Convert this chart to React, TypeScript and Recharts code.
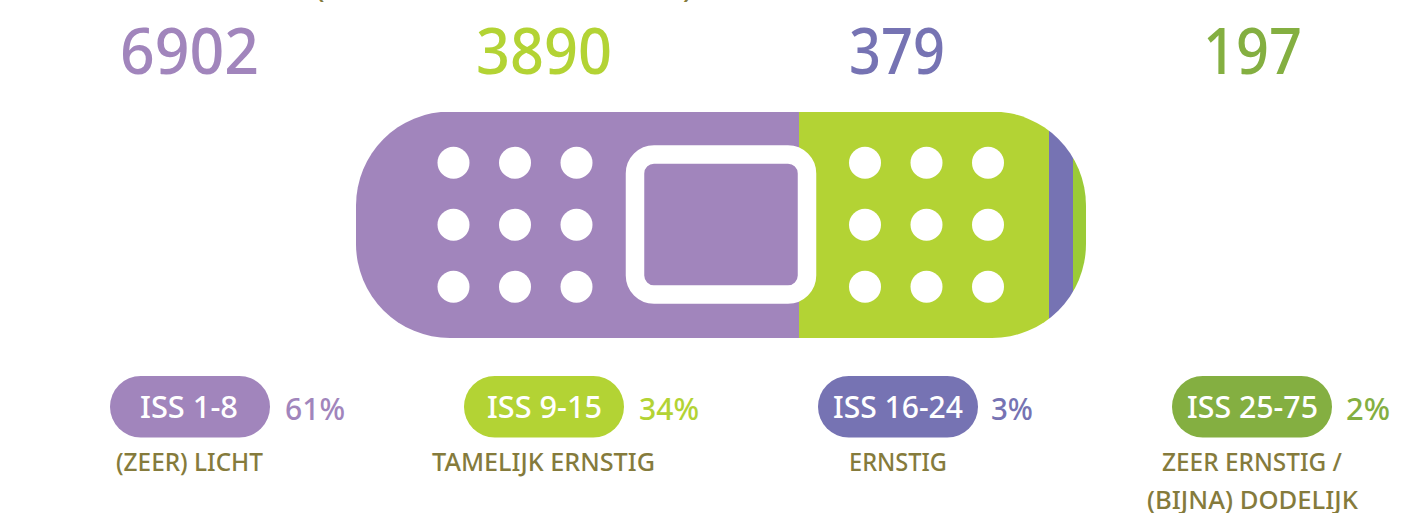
import { BarChart, Bar, XAxis, YAxis } from 'recharts'

const WIDTH = 1421
const HEIGHT = 513

// severity groups
const ranges = ['ISS 1-8', 'ISS 9-15', 'ISS 16-24', 'ISS 25-75']
const counts = [6902, 3890, 379, 197]
const shares = ['61%', '34%', '3%', '2%']
const descriptions = [['(ZEER) LICHT'], ['TAMELIJK ERNSTIG'], ['ERNSTIG'], ['ZEER ERNSTIG /', '(BIJNA) DODELIJK']]

const COLORS = ['#a185bc', '#b3d334', '#7673b3', '#84af41']
const BAR_COLORS = ['#a185bc', '#b3d334', '#7673b3', '#9bcb37']
const OLIVE = '#857b3c'
const FONT = '"Noto Sans", sans-serif'

const TOTAL = counts.reduce((sum, n) => sum + n, 0)
const chartData = [Object.fromEntries([['name', 'ISS'], ...ranges.map((r, i) => [r, counts[i]])])]

// plaster outline
const PILL = { x: 356, y: 111.5, width: 730, height: 226.5, radius: 94 }

// text boxes [left, right] measured per group
const countBoxes = [[120, 259], [476, 612], [849, 945], [1203, 1302]]
const pillBoxes = [[110, 270], [464, 624], [818, 978], [1172, 1332]]
const rangeBoxes = [[140, 238], [487, 602], [833, 963], [1187, 1318]]
const shareBoxes = [[285, 345], [639, 699], [991, 1033], [1346, 1390]]
const descBoxes = [
  [[116, 263]],
  [[432, 655]],
  [[849, 947]],
  [[1162, 1342], [1147, 1358]],
]

const dotCols = [453.5, 515, 576.5, 865, 926.5, 988]
const dotRows = [162.7, 224.7, 286.7]

function PlasterSegment(props: any) {
  const { x, y, width, height, fill } = props
  return <rect x={x} y={y} width={width} height={height} fill={fill} clipPath="url(#plaster-clip)" shapeRendering="crispEdges" />
}

function BoxText({ box, y, size, fill, weight = 500, children }: any) {
  return (
    <text
      x={box[0]}
      y={y}
      fontSize={size}
      fontWeight={weight}
      fill={fill}
      fontFamily={FONT}
      textLength={box[1] - box[0]}
      lengthAdjust="spacingAndGlyphs"
    >
      {children}
    </text>
  )
}

export default function App() {
  return (
    <div style={{ position: 'absolute', left: 0, top: 0, width: WIDTH, height: HEIGHT, overflow: 'hidden', background: '#fff' }}>
      <BarChart
        width={WIDTH}
        height={HEIGHT}
        data={chartData}
        layout="vertical"
        barCategoryGap={0}
        margin={{
          top: PILL.y,
          left: PILL.x,
          right: WIDTH - PILL.x - PILL.width,
          bottom: HEIGHT - PILL.y - PILL.height,
        }}
      >
        <defs>
          <clipPath id="plaster-clip">
            <rect x={PILL.x} y={PILL.y} width={PILL.width} height={PILL.height} rx={PILL.radius} ry={PILL.radius} />
          </clipPath>
        </defs>
        <XAxis type="number" domain={[0, TOTAL]} hide />
        <YAxis type="category" dataKey="name" hide />
        {ranges.map((r, i) => (
          <Bar key={r} dataKey={r} stackId="iss" fill={BAR_COLORS[i]} shape={PlasterSegment} isAnimationActive={false} />
        ))}
      </BarChart>

      <svg width={WIDTH} height={HEIGHT} style={{ position: 'absolute', left: 0, top: 0 }}>
        {/* plaster details */}
        {dotCols.map((cx) =>
          dotRows.map((cy) => <circle key={`${cx}-${cy}`} cx={cx} cy={cy} r={16} fill="#fff" />)
        )}
        <rect x={635} y={154.5} width={172} height={140} rx={19} fill="none" stroke="#fff" strokeWidth={18.5} />

        {/* bottom of the cut off heading */}
        <text x={316} y={-2} fontSize={26} fontWeight={600} fill={OLIVE} fontFamily={FONT}>(</text>
        <text x={683} y={-2} fontSize={26} fontWeight={600} fill={OLIVE} fontFamily={FONT}>)</text>

        {ranges.map((r, i) => (
          <g key={r}>
            <BoxText box={countBoxes[i]} y={74} size={64} fill={COLORS[i]}>{counts[i]}</BoxText>
            <rect x={pillBoxes[i][0]} y={376} width={pillBoxes[i][1] - pillBoxes[i][0]} height={61.5} rx={30.75} fill={COLORS[i]} />
            <BoxText box={rangeBoxes[i]} y={418} size={31} fill="#fff">{r}</BoxText>
            <BoxText box={shareBoxes[i]} y={420} size={31} fill={COLORS[i]}>{shares[i]}</BoxText>
            {descriptions[i].map((line, j) => (
              <BoxText key={line} box={descBoxes[i][j]} y={471 + j * 38} size={26} fill={OLIVE}>{line}</BoxText>
            ))}
          </g>
        ))}
      </svg>
    </div>
  )
}
